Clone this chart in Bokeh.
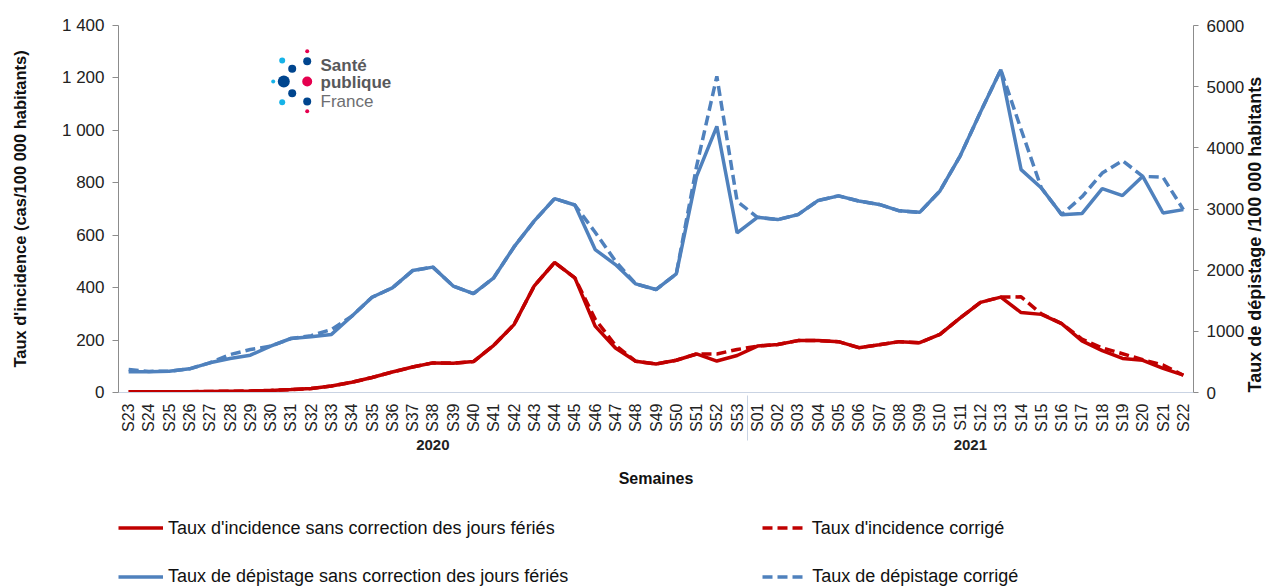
import math
from bokeh.plotting import figure
from bokeh.layouts import column
from bokeh.models import (FactorRange, Range1d, LinearAxis, FixedTicker, ColumnDataSource,
                          Legend, LegendItem, Label, BoxAnnotation)
from bokeh.embed import file_html
from bokeh.resources import INLINE

# ---------------- data ----------------
weeks_2020 = ["S23", "S24", "S25", "S26", "S27", "S28", "S29", "S30", "S31", "S32", "S33",
              "S34", "S35", "S36", "S37", "S38", "S39", "S40", "S41", "S42", "S43", "S44",
              "S45", "S46", "S47", "S48", "S49", "S50", "S51", "S52", "S53"]
weeks_2021 = ["S01", "S02", "S03", "S04", "S05", "S06", "S07", "S08", "S09", "S10", "S11",
              "S12", "S13", "S14", "S15", "S16", "S17", "S18", "S19", "S20", "S21", "S22"]

# Taux d'incidence (cas / 100 000 habitants) - left axis
incidence = [3, 3, 3, 3, 4, 5, 6, 8, 11, 15, 25,
             39, 57, 78, 97, 113, 112, 118, 180, 259, 407, 496,
             437, 253, 170, 119, 109, 123, 147, 120, 141,
             177, 183, 198, 198, 194, 171, 182, 194, 190, 222, 285,
             344, 364, 305, 298, 263, 197, 160, 130, 123, 92, 66]
incidence_corr = [3, 3, 3, 3, 4, 5, 6, 8, 11, 15, 25,
                  39, 57, 78, 97, 113, 112, 118, 180, 259, 407, 496,
                  437, 280, 180, 119, 109, 123, 147, 147, 164,
                  177, 183, 198, 198, 194, 171, 182, 194, 190, 222, 285,
                  344, 364, 365, 300, 263, 204, 170, 148, 125, 105, 66]

# Taux de dépistage (/100 000 habitants) - right axis
depistage = [340, 338, 349, 387, 485, 557, 610, 757, 883, 910, 950,
             1247, 1557, 1710, 1993, 2050, 1740, 1615, 1875, 2380, 2805, 3170,
             3065, 2337, 2092, 1775, 1683, 1938, 3534, 4351, 2608,
             2864, 2827, 2908, 3140, 3215, 3130, 3075, 2970, 2945, 3295, 3870,
             4585, 5278, 3644, 3343, 2908, 2925, 3333, 3219, 3534, 2935, 2990]
depistage_corr = [376, 345, 349, 387, 485, 620, 703, 757, 883, 930, 1030,
                  1247, 1557, 1710, 1993, 2050, 1740, 1615, 1875, 2380, 2805, 3170,
                  3065, 2620, 2150, 1775, 1683, 1938, 3698, 5168, 3126,
                  2864, 2827, 2908, 3140, 3215, 3130, 3075, 2970, 2945, 3295, 3870,
                  4585, 5278, 4300, 3343, 2908, 3200, 3588, 3790, 3534, 3518, 2990]

left_ticks = [0, 200, 400, 600, 800, 1000, 1200, 1400]
left_tick_labels = ["0", "200", "400", "600", "800", "1 000", "1 200", "1 400"]
right_ticks = [0, 1000, 2000, 3000, 4000, 5000, 6000]

label_inc = "Taux d'incidence sans correction des jours fériés"
label_inc_c = "Taux d'incidence corrigé"
label_dep = "Taux de dépistage sans correction des jours fériés"
label_dep_c = "Taux de dépistage corrigé"

# ---------------- figure ----------------
RED = "#C00000"
BLUE = "#4F81BD"
FONT = "Liberation Sans"
AXIS_GREY = "#8c8c8c"
LW = 3.5
DASH = "10 5"

factors = [("2020", w) for w in weeks_2020] + [("2021", w) for w in weeks_2021]

p = figure(frame_width=1075, frame_height=367,
           x_range=FactorRange(*factors, factor_padding=0, group_padding=0, range_padding=0),
           y_range=Range1d(0, 1400),
           output_backend="svg", toolbar_location=None,
           min_border_left=118, min_border_right=84, min_border_top=25, min_border_bottom=0)
p.extra_y_ranges = {"dep": Range1d(0, 6000)}
p.outline_line_color = None
p.xgrid.visible = False
p.ygrid.visible = False
p.background_fill_color = "white"

src = ColumnDataSource(dict(x=factors, inc=incidence, inc_c=incidence_corr,
                            dep=depistage, dep_c=depistage_corr))

p.line("x", "inc_c", source=src, line_color=RED, line_width=LW, line_dash=DASH)
p.line("x", "dep_c", source=src, line_color=BLUE, line_width=LW, line_dash=DASH,
       y_range_name="dep")
p.line("x", "inc", source=src, line_color=RED, line_width=LW)
p.line("x", "dep", source=src, line_color=BLUE, line_width=LW, y_range_name="dep")

# left axis
ly = p.yaxis[0]
ly.ticker = FixedTicker(ticks=left_ticks)
ly.major_label_overrides = {t: s for t, s in zip(left_ticks, left_tick_labels)}
ly.axis_label = "Taux d'incidence (cas/100 000 habitants)"
ly.axis_label_text_font = FONT
ly.axis_label_text_font_style = "bold"
ly.axis_label_text_font_size = "16.5px"
ly.axis_label_text_color = "#111111"
ly.axis_label_standoff = 30
ly.major_label_text_font = FONT
ly.major_label_text_font_size = "17px"
ly.major_label_text_color = "#222222"
ly.major_label_standoff = 8
ly.axis_line_color = AXIS_GREY
ly.major_tick_line_color = AXIS_GREY
ly.major_tick_out = 6
ly.major_tick_in = 0
ly.minor_tick_line_color = None

# right axis
ry = LinearAxis(y_range_name="dep", ticker=FixedTicker(ticks=right_ticks))
ry.axis_label = "Taux de dépistage /100 000 habitants"
ry.axis_label_text_font = FONT
ry.axis_label_text_font_style = "bold"
ry.axis_label_text_font_size = "18px"
ry.axis_label_text_color = "#111111"
ry.axis_label_standoff = 8
ry.major_label_text_font = FONT
ry.major_label_text_font_size = "17px"
ry.major_label_text_color = "#222222"
ry.major_label_standoff = 8
ry.axis_line_color = AXIS_GREY
ry.major_tick_line_color = AXIS_GREY
ry.major_tick_out = 5
ry.major_tick_in = 0
ry.minor_tick_line_color = None
try:
    ry.axis_label_align = "start"
    ry.axis_label_orientation = math.pi / 2
except Exception:
    ry.axis_label_orientation = "parallel"
p.add_layout(ry, "right")

# x axis (nested: year / week)
xa = p.xaxis[0]
xa.major_label_orientation = math.pi / 2
xa.major_label_text_font = FONT
xa.major_label_text_font_size = "16px"
xa.major_label_text_color = "#222222"
xa.major_label_standoff = 5
xa.group_text_font = FONT
xa.group_text_font_size = "15px"
xa.group_text_color = "#222222"
xa.group_label_orientation = "horizontal"
xa.major_tick_line_color = None
xa.axis_line_color = "#c9d3e3"
xa.separator_line_color = "#c9d3e3"
xa.separator_line_width = 1
xa.axis_label = "Semaines"
xa.axis_label_text_font = FONT
xa.axis_label_text_font_style = "bold"
xa.axis_label_text_font_size = "16px"
xa.axis_label_text_color = "#111111"
xa.axis_label_standoff = 17

# Santé publique France logo (decoration, screen units relative to frame)
FX, FY = 118, 392
dots = [  # page x, page y, radius, colour
    (306.7, 50.7, 2, "#e5004f"),
    (306.7, 60.7, 4, "#00458e"),
    (281.7, 60.0, 3, "#16b3e8"),
    (291.7, 68.3, 4, "#00458e"),
    (272.7, 81.0, 2, "#16b3e8"),
    (283.3, 81.0, 6, "#00458e"),
    (306.7, 81.0, 5, "#e5004f"),
    (291.7, 92.7, 4, "#00458e"),
    (281.7, 101.7, 3, "#16b3e8"),
    (306.7, 101.0, 4, "#00458e"),
    (306.7, 110.7, 2, "#e5004f"),
]
for (dx, dy, r, c) in dots:
    p.add_layout(BoxAnnotation(left=dx - FX - r, right=dx - FX + r,
                               bottom=FY - dy - r, top=FY - dy + r,
                               left_units="screen", right_units="screen",
                               top_units="screen", bottom_units="screen",
                               fill_color=c, fill_alpha=1, line_color=None,
                               border_radius=int(r)))
for txt, ty, style, col in [("Santé", 65, "bold", "#58595b"),
                            ("publique", 82, "bold", "#58595b"),
                            ("France", 101, "normal", "#6d6e71")]:
    p.add_layout(Label(x=320 - FX, y=FY - ty, x_units="screen", y_units="screen",
                       text=txt, text_font=FONT, text_font_size="17px",
                       text_font_style=style, text_color=col,
                       text_baseline="middle", text_align="left"))

# ---------------- legend strips (one row each) ----------------
def legend_strip(height, color, lab_solid, lab_dash, spacing):
    f = figure(width=1277, height=height, x_range=Range1d(0, 1), y_range=Range1d(0, 1),
               output_backend="svg", toolbar_location=None,
               x_axis_location=None, y_axis_location=None,
               min_border_left=95, min_border_right=0, min_border_top=0, min_border_bottom=0)
    f.outline_line_color = None
    f.grid.visible = False
    # legend proxies: styled like the chart lines, their points lie outside the strip's range
    proxy = ColumnDataSource(dict(x=[5, 6], y=[5, 6]))
    rs = f.line("x", "y", source=proxy, line_color=color, line_width=LW)
    rd = f.line("x", "y", source=proxy, line_color=color, line_width=LW, line_dash=DASH)
    lg = Legend(items=[LegendItem(label=lab_solid, renderers=[rs]),
                       LegendItem(label=lab_dash, renderers=[rd])],
                location="left", orientation="horizontal",
                border_line_color=None, background_fill_alpha=0,
                padding=0, margin=0, spacing=spacing,
                glyph_width=45, glyph_height=20, label_height=20, label_standoff=5,
                label_text_font=FONT, label_text_font_size="18px",
                label_text_color="#111111")
    f.add_layout(lg)
    return f

leg1 = legend_strip(77, RED, label_inc, label_inc_c, 207)
leg2 = legend_strip(20, BLUE, label_dep, label_dep_c, 194)

layout = column(p, leg1, leg2, spacing=0)

open("out.html", "w").write(file_html(layout, INLINE))
